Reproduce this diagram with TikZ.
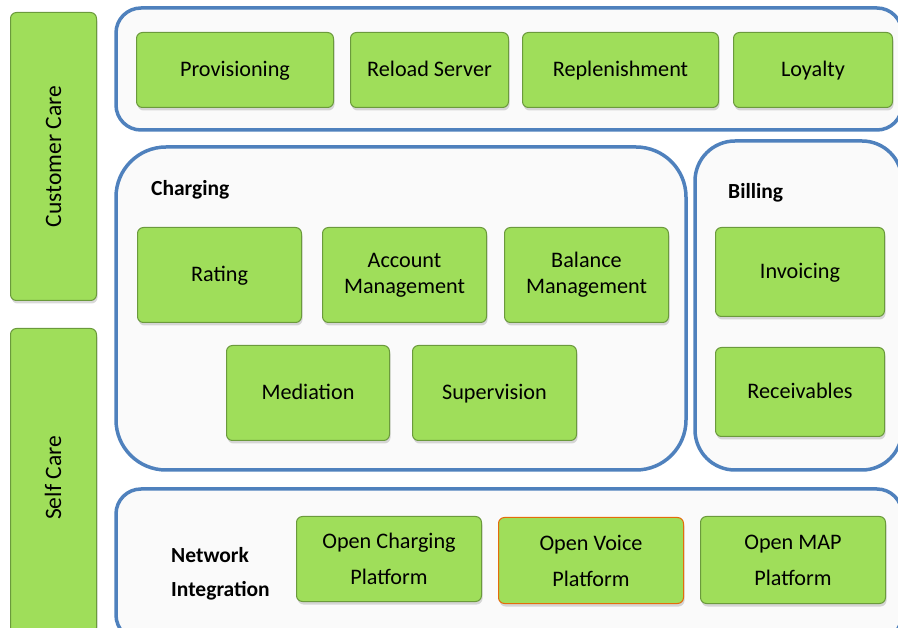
\documentclass[tikz,border=0pt]{standalone}
\usepackage{fontspec}
\setmainfont{Carlito}
\usetikzlibrary{shadows}
\definecolor{vert}{HTML}{9FDE5A}
\definecolor{vertfonce}{HTML}{6B9A3C}
\definecolor{bleu}{HTML}{4F81BD}
\definecolor{orangebord}{HTML}{E46C0A}
\tikzstyle{module} = [rectangle, rounded corners=6pt, draw=vertfonce, line width=1pt, fill=vert, anchor=north west, align=center, inner sep=0pt, font=\fontsize{22.2}{26}\selectfont, drop shadow={shadow xshift=1pt, shadow yshift=-3pt, opacity=0.3}]
\tikzstyle{ligne} = [text height=16pt, text depth=2pt]
\tikzstyle{zone} = [draw=bleu, line width=3.5pt, fill=black!2]
\tikzstyle{titre} = [anchor=west, inner sep=0pt, align=left, font=\bfseries\fontsize{21.5}{34}\selectfont]
\tikzstyle{vertical} = [rotate=90, font=\fontsize{23.5}{28}\selectfont]

\begin{document}
\begin{tikzpicture}[x=1pt, y=-1pt]

        \useasboundingbox (0,0) rectangle (898,628);

        % colonnes de gauche
        \node (CC) [module, minimum width=86pt, minimum height=288pt] at (10,12) {};
        \node [vertical] at (CC.center) {Customer Care};
        \node (SC) [module, minimum width=86pt, minimum height=305pt] at (10,328) {};
        \node [vertical] at (53,478) {Self Care};

        % cadres
        \draw[zone, rounded corners=25pt] (116,8) rectangle (902,130);
        \draw[zone, rounded corners=50pt] (116,147) rectangle (686,470);
        \draw[zone, rounded corners=40pt] (695,141) rectangle (902,470);
        \draw[zone, rounded corners=25pt] (116,489) rectangle (902,640);

        % ligne du haut
        \node (P1) [module, ligne, minimum width=197pt, minimum height=75pt] at (136,32) {Provisioning};
        \node (P2) [module, ligne, minimum width=158pt, minimum height=75pt] at (350,32) {Reload Server};
        \node (P3) [module, ligne, minimum width=196pt, minimum height=75pt] at (522,32) {Replenishment};
        \node (P4) [module, ligne, minimum width=159pt, minimum height=75pt] at (733,32) {Loyalty};

        % charging
        \node (T1) [titre] at (151,190) {Charging};
        \node (C1) [module, ligne, minimum width=164pt, minimum height=95pt] at (137,227) {Rating};
        \node (C2) [module, minimum width=164pt, minimum height=95pt] at (322,227) {Account\\Management};
        \node (C3) [module, minimum width=164pt, minimum height=95pt] at (504,227) {Balance\\Management};
        \node (C4) [module, ligne, minimum width=163pt, minimum height=95pt] at (226,345) {Mediation};
        \node (C5) [module, ligne, minimum width=164pt, minimum height=95pt] at (412,345) {Supervision};

        % billing
        \node (T2) [titre] at (728,193) {Billing};
        \node (B1) [module, ligne, minimum width=169pt, minimum height=89pt] at (715,227) {Invoicing};
        \node (B2) [module, ligne, minimum width=169pt, minimum height=89pt] at (715,347) {Receivables};

        % network integration
        \node (T3) [titre] at (171,574) {Network\\Integration};
        \node (N1) [module, minimum width=185pt, minimum height=85pt, font=\fontsize{22.2}{36}\selectfont] at (296,516) {Open Charging\\Platform};
        \node (N2) [module, minimum width=185pt, minimum height=86pt, draw=orangebord, font=\fontsize{22.2}{36}\selectfont] at (498,517) {Open Voice\\Platform};
        \node (N3) [module, minimum width=185pt, minimum height=87pt, font=\fontsize{22.2}{36}\selectfont] at (700,516) {Open MAP\\Platform};

\end{tikzpicture}
\end{document}
